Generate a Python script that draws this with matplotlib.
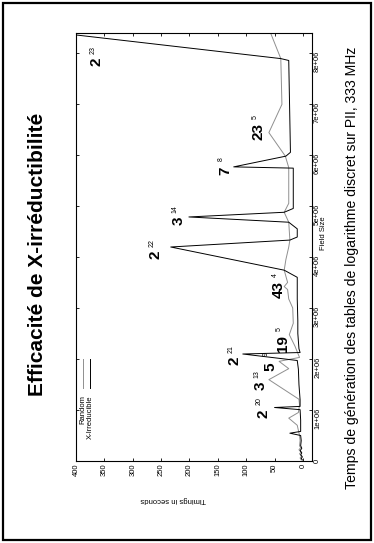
import numpy as np
import matplotlib
matplotlib.use('Agg')
from matplotlib import pyplot as plt
from matplotlib.patches import Rectangle

plt.rcParams['font.family'] = ['Liberation Sans', 'DejaVu Sans']

# Field sizes (millions) and timings (s)
random_size = np.array([0.02, 0.06, 0.1, 0.14, 0.18, 0.22, 0.26, 0.3, 0.4, 0.5, 0.6, 0.7,
                        0.84, 0.95, 1.1, 1.21, 1.594323, 1.81, 1.953125, 2.03, 2.25,
                        2.476099, 2.7, 3.0, 3.175, 3.36, 3.418801, 3.5, 3.74, 3.95, 4.194,
                        4.33, 4.68, 4.875, 5.05, 5.75, 5.975, 6.436343, 6.99, 7.887, 8.388608])
random_time = [3, 5, 2, 6, 3, 7, 4, 6, 5, 6, 8, 10,
               25, 8, 6, 7, 60, 25, 42, 6, 14,
               24, 17, 18, 25, 27, 33, 27, 33, 30, 25,
               23, 25, 33, 25, 25, 31, 60, 37, 39, 57]

xirr_size = np.array([0.02, 0.05, 0.08, 0.12, 0.16, 0.2, 0.25, 0.3, 0.4, 0.5, 0.545, 0.58,
                      0.8, 1.006, 1.048576, 1.07, 1.2, 1.5, 1.8, 1.97, 2.097152, 2.126,
                      2.2, 2.5, 2.75, 3.175, 3.6, 3.74, 4.194304, 4.33, 4.39, 4.55, 4.68,
                      4.782969, 4.875, 4.95, 5.74, 5.764801, 5.975, 6.05, 7.85, 7.887,
                      8.388608])
xirr_time = [1, 3, 1, 4, 2, 5, 2, 4, 3, 4, 23, 4,
             4, 5, 50, 5, 5, 7, 8, 10, 106, 5,
             7, 9, 9, 10, 10, 33, 233, 23, 10, 10, 25,
             201, 33, 17, 17, 122, 30, 22, 25, 39,
             430]

# peaks labelled as base^exponent
peak_base = ['2', '3', '5', '2', '19', '43', '2', '3', '7', '23', '2']
peak_exp = ['20', '13', '9', '21', '5', '4', '22', '14', '8', '5', '23']
# label offsets from the peak (pixels)
peak_off = [(-11, -6), (-8, -6), (-9, -5), (-8, -7), (-6, -9), (-5, -3),
            (-15, -8), (-10, -4), (-8, -4), (-10, 1), (38, -29)]

time_ticks = np.arange(0, 401, 50)
size_ticks = np.arange(0, 9) * 1e6
size_labels = ['0'] + ['%de+06' % i for i in range(1, 9)]

W, H = 374, 543
fig = plt.figure(figsize=(W/100, H/100), dpi=100)
fig.patches.append(Rectangle((3/W, 3/H), 368/W, 537/H, transform=fig.transFigure,
                             fill=False, lw=1.6, color='k'))

fig.text(38/W, 1 - 254/H, 'Efficacité de X-irréductibilité', rotation=90,
         ha='center', va='center', fontsize=15, fontweight='bold')
fig.text(352/W, 1 - 268/H, 'Temps de génération des tables de logarithme discret sur PII, 333 MHz',
         rotation=90, ha='center', va='center', fontsize=10.1)

ax = fig.add_axes([76/W, (H - 461)/H, 236/W, 428/H])
gray = '#8f8f8f'
ax.plot(random_time, random_size * 1e6, color=gray, lw=0.7)
ax.plot(xirr_time, xirr_size * 1e6, color='k', lw=0.7)
ax.set_xlim(400, -16)
ax.set_ylim(0, 2**23)

ax.set_xticks(time_ticks)
ax.set_xticklabels([str(t) for t in time_ticks])
ax.set_yticks(size_ticks)
ax.set_yticklabels(size_labels)
ax.tick_params(direction='in', length=2.5, width=0.6, labelsize=5.5, pad=2,
               top=True, right=True, left=True, bottom=True,
               labelleft=False, labelright=True)
ax.tick_params(axis='x', labelrotation=90)
ax.tick_params(axis='y', labelrotation=90, pad=1.5)
for s in ax.spines.values():
    s.set_linewidth(0.8)

ax.text(1.05, 0.533, 'Field Size', rotation=90, ha='center', va='center',
        fontsize=5.5, transform=ax.transAxes)
ax.text(0.41, -0.091, 'Timings in seconds', rotation=180, ha='center', va='center',
        fontsize=5.5, transform=ax.transAxes)

# legend
ax.plot([0.03, 0.03], [0.171, 0.238], color=gray, lw=0.7, transform=ax.transAxes)
ax.plot([0.06, 0.06], [0.171, 0.238], color='k', lw=0.7, transform=ax.transAxes)
ax.text(0.03, 0.154, 'Random', rotation=90, ha='center', va='top', fontsize=5.5,
        transform=ax.transAxes)
ax.text(0.06, 0.154, 'X-Irreducible', rotation=90, ha='center', va='top', fontsize=5.5,
        transform=ax.transAxes)

all_size = np.concatenate([random_size, xirr_size]) * 1e6
all_time = np.concatenate([random_time, xirr_time])
for b, e, (dx, dy) in zip(peak_base, peak_exp, peak_off):
    f = float(int(b) ** int(e))
    near = np.abs(all_size - f) < 3e4
    t = all_time[near].max()
    ax.annotate(b, (t, f), xytext=(dx, dy), textcoords='offset pixels', rotation=90,
                ha='center', va='center', fontsize=11, fontweight='bold',
                annotation_clip=False)
    ax.annotate(e, (t, f), xytext=(dx - 4, dy + 9 + 3 * len(b)), textcoords='offset pixels',
                rotation=90, ha='center', va='center', fontsize=5, annotation_clip=False)

fig.savefig('out.png', dpi=100)
